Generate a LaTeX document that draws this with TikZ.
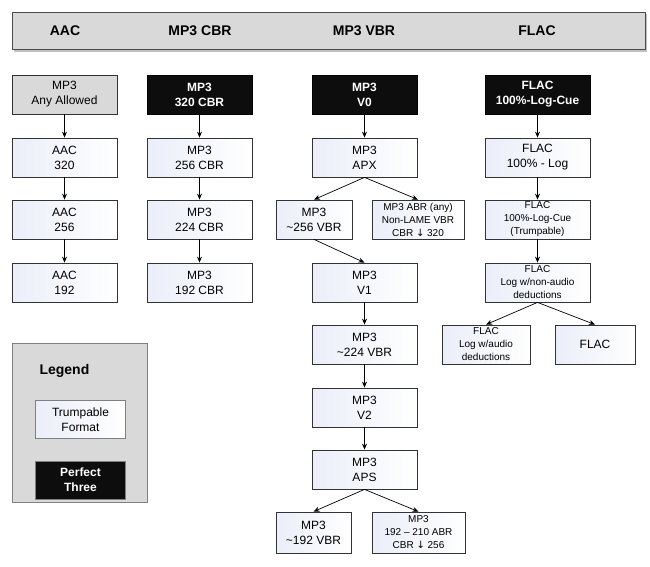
\documentclass[tikz,border=0pt]{standalone}
\usepackage{fontspec}
\setmainfont{Liberation Sans}
\newfontfamily\symf{DejaVu Sans}
\usetikzlibrary{arrows.meta,positioning}
\definecolor{gfill}{HTML}{D9D9D9}
\definecolor{wleft}{HTML}{EBEEF9}
\definecolor{bfill}{HTML}{0D0D0D}
\definecolor{edge}{HTML}{333333}
\tikzset{
  base/.style={line width=0.8pt, minimum width=105pt, minimum height=39pt, align=center, inner sep=1pt, font=\fontsize{12}{15}\selectfont},
  wbox/.style={base, draw=edge, shading=axis, shading angle=60, left color=wleft, right color=white},
  bbox/.style={base, draw=black, fill=bfill, text=white, font=\fontsize{12}{15}\selectfont\bfseries},
  gbox/.style={base, draw=edge, fill=gfill},
  small/.style={font=\fontsize{10}{13}\selectfont},
  hlabel/.style={font=\fontsize{14}{16}\selectfont\bfseries},
  arr/.style={-{Stealth[length=6pt,width=5pt]}, line width=0.7pt, draw=black}
}
\begin{document}
\begin{tikzpicture}[x=1pt,y=-1pt]
\useasboundingbox (0,0) rectangle (650,567);
% header
\fill[black!25] (14,14) rectangle (647,52);
\node[draw=black!70, fill=gfill, line width=0.8pt, minimum width=633pt, minimum height=37pt, inner sep=0pt] (header) at (328.5,30.5) {};
\node[hlabel] (hAAC) at (65,30.5) {AAC};
\node[hlabel] (hCBR) at (200,30.5) {MP3 CBR};
\node[hlabel] (hVBR) at (364,30.5) {MP3 VBR};
\node[hlabel] (hFLAC) at (537,30.5) {FLAC};

% AAC column
\node[gbox] (a0) at (64.5,94.5) {MP3\\Any Allowed};
\node[wbox] (a1) at (64.5,157.5) {AAC\\320};
\node[wbox] (a2) at (64.5,219.5) {AAC\\256};
\node[wbox] (a3) at (64.5,282.5) {AAC\\192};
\draw[arr] (a0) -- (a1);
\draw[arr] (a1) -- (a2);
\draw[arr] (a2) -- (a3);

% MP3 CBR column
\node[bbox] (c0) at (199.5,94.5) {MP3\\320 CBR};
\node[wbox] (c1) at (199.5,157.5) {MP3\\256 CBR};
\node[wbox] (c2) at (199.5,219.5) {MP3\\224 CBR};
\node[wbox] (c3) at (199.5,282.5) {MP3\\192 CBR};
\draw[arr] (c0) -- (c1);
\draw[arr] (c1) -- (c2);
\draw[arr] (c2) -- (c3);

% MP3 VBR column
\node[bbox] (v0) at (364.5,94.5) {MP3\\V0};
\node[wbox] (apx) at (364.5,157.5) {MP3\\APX};
\node[wbox, minimum width=76pt] (v256) at (314,219.5) {MP3\\\textasciitilde256 VBR};
\node[wbox, minimum width=92pt, small] (abr) at (418,219.5) {MP3 ABR (any)\\Non-LAME VBR\\CBR {\symf ↓} 320};
\node[wbox] (v1) at (364.5,282.5) {MP3\\V1};
\node[wbox] (v224) at (364.5,344.5) {MP3\\\textasciitilde224 VBR};
\node[wbox] (v2) at (364.5,407.5) {MP3\\V2};
\node[wbox] (aps) at (364.5,469.5) {MP3\\APS};
\node[wbox, minimum width=75pt, minimum height=41pt] (v192) at (313.5,532.5) {MP3\\\textasciitilde192 VBR};
\node[wbox, minimum width=93pt, minimum height=41pt, small] (abr2) at (418.5,532.5) {MP3\\192 -- 210 ABR\\CBR {\symf ↓} 256};
\draw[arr] (v0) -- (apx);
\draw[arr] (apx.south) -- (v256.north);
\draw[arr] (apx.south) -- (abr.north);
\draw[arr] (v256.south) -- (v1.north);
\draw[arr] (v1) -- (v224);
\draw[arr] (v224) -- (v2);
\draw[arr] (v2) -- (aps);
\draw[arr] (aps.south) -- (v192.north);
\draw[arr] (aps.south) -- (abr2.north);

% FLAC column
\node[bbox] (f0) at (537.5,94.5) {FLAC\\100\%-Log-Cue};
\node[wbox] (f1) at (537.5,157.5) {FLAC\\100\% - Log};
\node[wbox, small] (f2) at (537.5,219.5) {FLAC\\100\%-Log-Cue\\(Trumpable)};
\node[wbox, small] (f3) at (537.5,282.5) {FLAC\\Log w/non-audio\\deductions};
\node[wbox, small, minimum width=88pt] (f4) at (486,344.5) {FLAC\\Log w/audio\\deductions};
\node[wbox, minimum width=80pt] (f5) at (595,344.5) {FLAC};
\draw[arr] (f0) -- (f1);
\draw[arr] (f1) -- (f2);
\draw[arr] (f2) -- (f3);
\draw[arr] (f3.south) -- (f4.north);
\draw[arr] (f3.south) -- (f5.north);

% Legend
\node[draw=black!50, fill=gfill, line width=0.8pt, minimum width=135pt, minimum height=159pt, inner sep=0pt] (legend) at (79.5,422.5) {};
\node[hlabel, anchor=west] (legtitle) at (36,371) {Legend};
\node[wbox, draw=black!50, minimum width=90pt, minimum height=38pt] (legw) at (80.5,419.5) {Trumpable\\Format};
\node[bbox, draw=black!50, minimum width=90pt, minimum height=38pt] (legb) at (80.5,480) {Perfect\\Three};
\end{tikzpicture}
\end{document}
